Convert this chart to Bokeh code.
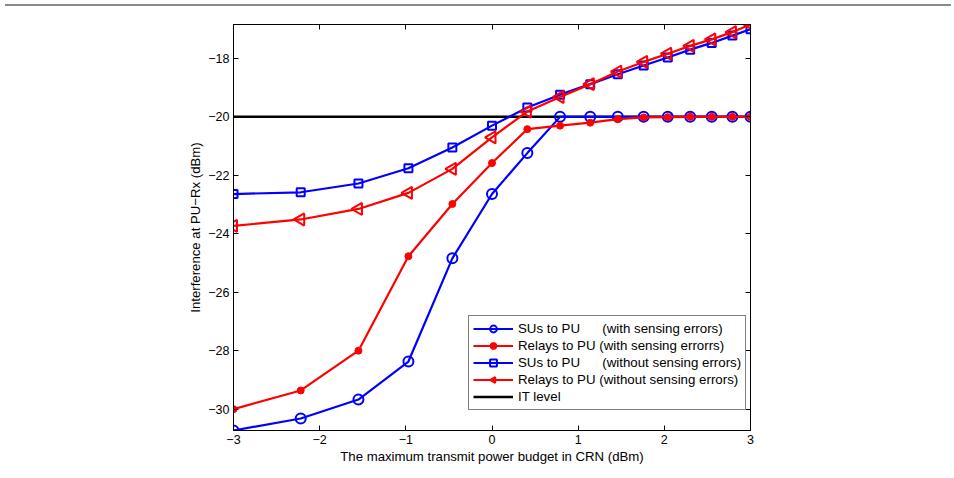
from bokeh.plotting import figure
from bokeh.models import (Range1d, LinearAxis, Legend, LegendItem, FixedTicker, Div, CustomJS)
from bokeh.layouts import column
from bokeh.embed import file_html
from bokeh.resources import INLINE

# x: maximum transmit power budget in CRN (dBm)
p_dbm = [-3.0, -2.22, -1.55, -0.97, -0.46, 0.0, 0.41, 0.79, 1.14, 1.46, 1.76, 2.04, 2.30, 2.55, 2.79, 3.0]

sus_with = [-30.73, -30.32, -29.67, -28.37, -24.84, -22.64, -21.24, -20.0, -20.0, -20.0,
            -20.0, -20.0, -20.0, -20.0, -20.0, -20.0]
relays_with = [-30.0, -29.36, -28.0, -24.77, -22.98, -21.58, -20.42, -20.30, -20.20, -20.08,
               -20.02, -20.01, -20.0, -20.0, -20.0, -20.0]
sus_without = [-22.64, -22.58, -22.28, -21.76, -21.05, -20.30, -19.68, -19.24, -18.88, -18.54,
               -18.24, -17.97, -17.70, -17.47, -17.22, -17.00]
relays_without = [-23.73, -23.51, -23.15, -22.60, -21.78, -20.70, -19.82, -19.32, -18.88, -18.45,
                  -18.12, -17.84, -17.57, -17.35, -17.10, -16.84]
it_level = -20.0
it_x = [-3.0, 3.0]

x_ticks = [-3, -2, -1, 0, 1, 2, 3]
y_ticks = [-30, -28, -26, -24, -22, -20, -18]

labels = [
    "SUs to PU\u00a0\u00a0\u00a0\u00a0\u00a0 (with sensing errors)",
    "Relays to PU (with sensing errorrs)",
    "SUs to PU\u00a0\u00a0\u00a0\u00a0\u00a0 (without sensing errors)",
    "Relays to PU (without sensing errors)",
    "IT level",
]

BLUE = "#0000ff"
RED = "#ff0000"
FONT = "Liberation Sans"

p = figure(width=954, height=461, output_backend="svg", toolbar_location=None,
           x_range=Range1d(-3, 3), y_range=Range1d(-30.73, -16.84),
           min_border_left=233, min_border_right=204, min_border_top=7, min_border_bottom=48)
p.background_fill_color = "white"
p.border_fill_color = "white"
p.outline_line_color = "black"
p.outline_line_width = 1
p.grid.visible = False

for ax in p.axis:
    ax.major_tick_in = 5
    ax.major_tick_out = 0
    ax.minor_tick_in = 0
    ax.minor_tick_out = 0
    ax.axis_line_color = "black"
    ax.major_tick_line_color = "black"
    ax.major_label_text_font = FONT
    ax.major_label_text_font_size = "12.5px"
    ax.major_label_text_color = "black"
    ax.axis_label_text_font = FONT
    ax.axis_label_text_font_size = "13.2px"
    ax.axis_label_text_font_style = "normal"
    ax.axis_label_text_color = "black"

p.xaxis.ticker = FixedTicker(ticks=x_ticks)
p.yaxis.ticker = FixedTicker(ticks=y_ticks)
p.xaxis.major_label_standoff = 4
p.yaxis.major_label_standoff = 4
p.xaxis.axis_label = "The maximum transmit power budget in CRN (dBm)"
p.yaxis.axis_label = "Interference at PU\u2212Rx (dBm)"
p.xaxis.axis_label_standoff = 2
p.yaxis.axis_label_standoff = 2
p.xaxis.major_label_overrides = {t: str(t).replace("-", "\u2212") for t in x_ticks}
p.yaxis.major_label_overrides = {t: str(t).replace("-", "\u2212") for t in y_ticks}

for loc, ticks in (("above", x_ticks), ("right", y_ticks)):
    ax = LinearAxis(ticker=FixedTicker(ticks=ticks), major_tick_in=5, major_tick_out=0,
                    minor_tick_in=0, minor_tick_out=0, major_label_text_font_size="0px",
                    major_label_standoff=0, major_label_text_color=None,
                    axis_line_color="black", major_tick_line_color="black")
    p.add_layout(ax, loc)

# left-pointing triangle as a custom marker
left_tri = CustomJS(code="""
export default (...a) => {
  let ctx, i, r, visuals
  if (a.length > 0 && a[0] != null && typeof a[0].beginPath === "function") {
    [ctx, i, r, visuals] = a
  } else {
    let d = null
    for (const x of a) {
      if (x != null && typeof x === "object" && "ctx" in x) { d = x; break }
    }
    if (d == null) return
    ctx = d.ctx; i = d.i; r = d.r; visuals = d.visuals
  }
  ctx.beginPath()
  ctx.moveTo(-r, 0)
  ctx.lineTo(0.5*r, -0.866*r)
  ctx.lineTo(0.5*r, 0.866*r)
  ctx.closePath()
  if (visuals != null) {
    visuals.fill.apply(ctx, i)
    visuals.line.apply(ctx, i)
  }
}
""")

# IT level first (under the curves)
r_it = p.line(it_x, [it_level, it_level], line_color="black", line_width=2.5)

r1l = p.line(p_dbm, sus_with, line_color=BLUE, line_width=2.2)
r1m = p.scatter(p_dbm, sus_with, marker="circle", size=10, line_color=BLUE, line_width=2,
                fill_color=None)
r2l = p.line(p_dbm, relays_with, line_color=RED, line_width=2.2)
r2m = p.scatter(p_dbm, relays_with, marker="circle", size=7, line_color=RED, fill_color=RED)
r3l = p.line(p_dbm, sus_without, line_color=BLUE, line_width=2.2)
r3m = p.scatter(p_dbm, sus_without, marker="square", size=8, line_color=BLUE, line_width=2,
                fill_color=None)
r4l = p.line(p_dbm, relays_without, line_color=RED, line_width=2.2)
r4m = p.scatter(p_dbm, relays_without, marker="@ltri", defs={"@ltri": left_tri}, size=14,
                line_color=RED, line_width=2, fill_color=None)

legend = Legend(items=[
    LegendItem(label=labels[0], renderers=[r1l, r1m]),
    LegendItem(label=labels[1], renderers=[r2l, r2m]),
    LegendItem(label=labels[2], renderers=[r3l, r3m]),
    LegendItem(label=labels[3], renderers=[r4l, r4m]),
    LegendItem(label=labels[4], renderers=[r_it]),
], location=(235, 20))
legend.label_text_font = FONT
legend.label_text_font_size = "13.3px"
legend.label_text_color = "black"
legend.glyph_width = 40
legend.glyph_height = 17
legend.label_height = 17
legend.label_standoff = 5
legend.spacing = 0
legend.padding = 4
legend.margin = 0
legend.border_line_color = "black"
legend.border_line_width = 1
legend.background_fill_alpha = 1
p.add_layout(legend, "center")

# page frame line above the figure
top_line = Div(text="", width=946, height=8,
               styles={"border-top": "2px solid #8a8a8a", "margin-top": "4px", "box-sizing": "border-box"})

layout = column(top_line, p, spacing=0)
open("out.html", "w").write(file_html(layout, INLINE))
